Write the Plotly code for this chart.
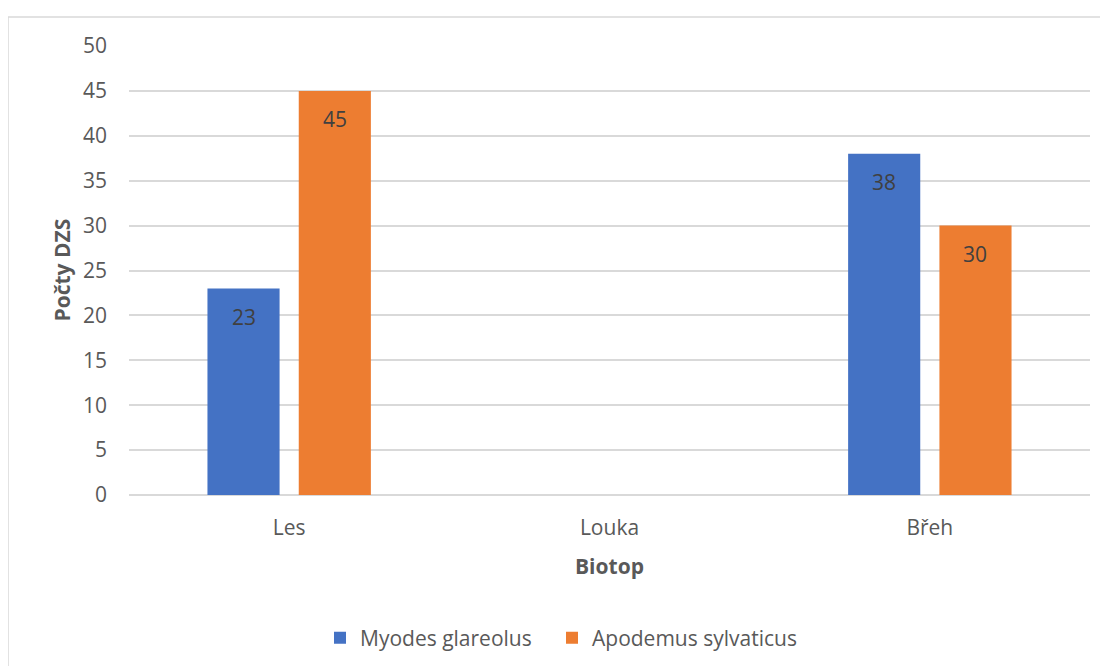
import plotly.graph_objects as go

categories = ["Les", "Louka", "Břeh"]
myodes = [23, None, 38]
apodemus = [45, None, 30]
series_names = ["Myodes glareolus", "Apodemus sylvaticus"]
y_ticks = [0, 5, 10, 15, 20, 25, 30, 35, 40, 45, 50]

FONT = "Open Sans"
GRAY = "#595959"
LABEL = "#404040"
COLORS = ["#4472C4", "#ED7D31"]

W, H = 1108, 666
ML, MR, MT, MB = 121, 26, 38, 179
PW = W - ML - MR
PH = H - MT - MB
BARGAP, BARGROUPGAP = 0.43, 0.21

fig = go.Figure()
legend_ids = ["legend", "legend2"]
for name, vals, col, lg in zip(series_names, [myodes, apodemus], COLORS, legend_ids):
    fig.add_trace(go.Bar(
        x=categories, y=vals, name=name, legend=lg,
        marker=dict(color=col, line=dict(width=0)),
    ))

# data labels (inside end), positioned on the bars' values
slot = PW / len(categories) * (1 - BARGAP) / 2
for i, vals in enumerate([myodes, apodemus]):
    shift = (i - 0.5) * slot
    for c, v in zip(categories, vals):
        if v is None:
            continue
        fig.add_annotation(x=c, y=v, xref="x", yref="y", text=str(v),
                           showarrow=False, xshift=shift, yshift=-28.5,
                           xanchor="center", yanchor="middle",
                           font=dict(family=FONT, size=21, color=LABEL))

legend_y = (PH - (630 - MT)) / PH
legend_common = dict(
    orientation="h", xanchor="left", y=legend_y, yanchor="middle",
    font=dict(family=FONT, size=21, color=GRAY), itemwidth=30,
    bgcolor="rgba(0,0,0,0)",
)

fig.update_layout(
    width=W, height=H,
    margin=dict(l=ML, r=MR, t=MT, b=MB, pad=0),
    paper_bgcolor="white", plot_bgcolor="white",
    barmode="group", bargap=BARGAP, bargroupgap=BARGROUPGAP,
    font=dict(family=FONT, size=21, color=GRAY),
    showlegend=True,
    legend=dict(x=(312 - ML) / PW, **legend_common),
    legend2=dict(x=(544 - ML) / PW, **legend_common),
)

fig.update_xaxes(
    type="category", showgrid=False, showline=False, zeroline=False,
    ticks="", tickfont=dict(family=FONT, size=21, color=GRAY),
    ticklabelstandoff=18,
)
fig.update_yaxes(
    range=[0, 50], tickvals=y_ticks, showgrid=True, gridcolor="#d9d9d9",
    gridwidth=1.5, zeroline=True, zerolinecolor="#d9d9d9", zerolinewidth=1.5,
    showline=False, ticks="", tickfont=dict(family=FONT, size=21, color=GRAY),
    ticklabelstandoff=21,
)

# axis titles
fig.add_annotation(text="<b>Počty DZS</b>", xref="paper", yref="paper",
                   x=(53 - ML) / PW, y=0.5, textangle=-90, showarrow=False,
                   font=dict(family=FONT, size=21, color=GRAY),
                   xanchor="center", yanchor="middle")
fig.add_annotation(text="<b>Biotop</b>", xref="paper", yref="paper",
                   x=0.5, y=(PH - (557.5 - MT)) / PH, showarrow=False,
                   font=dict(family=FONT, size=21, color=GRAY),
                   xanchor="center", yanchor="middle")

# chart border (extends past the window on right and bottom)
fig.add_shape(type="rect", xref="paper", yref="paper",
              x0=(0 - ML) / PW, x1=1.2, y0=-0.6, y1=(PH - (9 - MT)) / PH,
              line=dict(color="#d9d9d9", width=1.5), fillcolor="rgba(0,0,0,0)",
              layer="below")

fig.write_html("out.html")
